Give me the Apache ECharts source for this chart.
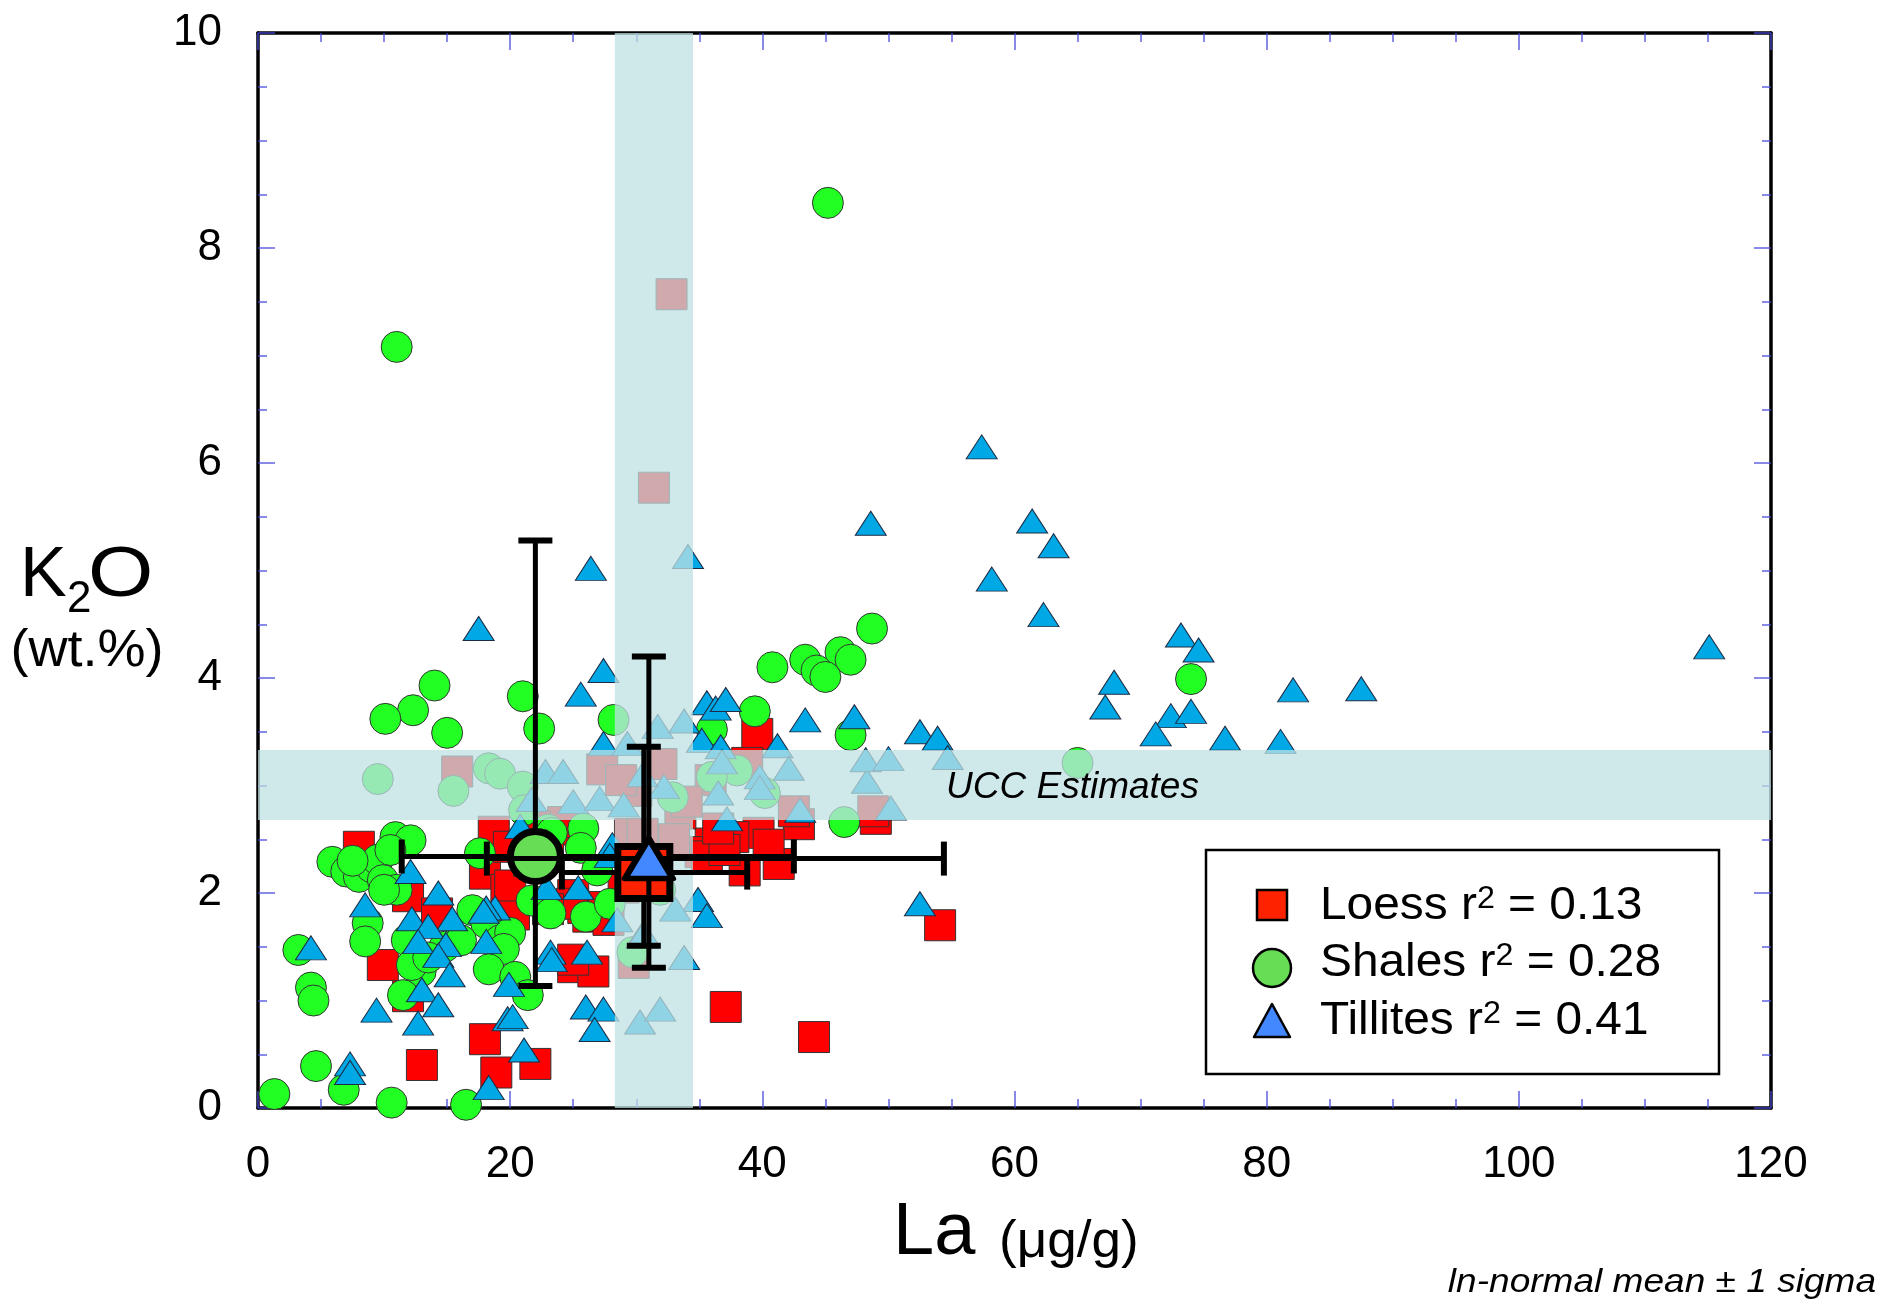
<!DOCTYPE html>
<html>
<head>
<meta charset="utf-8">
<script src="https://cdn.jsdelivr.net/npm/echarts@6/dist/echarts.min.js"></script>
<style>
html,body{margin:0;padding:0;background:#fff;}
#c{width:1897px;height:1308px;}
</style>
</head>
<body>
<div id="c"></div>
<script>
// ---------------- DATA ----------------
const xRange = [0, 120];
const yRange = [0, 10];
const xInterval = 20;
const yInterval = 2;

const loessLa = [8.0, 18.7, 18.0, 19.7, 11.9, 9.9, 11.9, 13.0, 18.0, 18.9, 22.0, 25.0, 26.6, 37.1, 44.1, 54.1, 49.0, 42.9, 39.6, 39.7, 37.7, 35.9, 41.3, 38.6, 35.1, 26.2, 25.8, 27.3, 25.0, 24.6, 24.2, 19.9, 14.2, 20.3, 24.9, 15.8, 27.3, 31.4, 32.8, 29.8, 31.6, 33.5, 38.8, 35.9, 42.5, 48.8, 22.0, 20.0, 35.6, 33.0, 29.5, 30.0, 32.0, 34.0, 28.8, 21.5, 23.0, 23.0, 25.0, 27.8, 37.0, 40.5, 36.5, 30.5, 29.0];
const loessK2O = [2.43, 2.57, 2.18, 2.03, 1.97, 1.33, 1.04, 0.40, 0.64, 0.33, 0.41, 1.31, 1.27, 0.94, 0.66, 1.70, 2.69, 2.64, 3.48, 2.56, 2.52, 2.46, 2.27, 2.21, 2.38, 1.78, 1.86, 1.87, 1.98, 2.59, 2.66, 2.43, 1.81, 1.80, 1.90, 3.13, 3.15, 5.77, 7.57, 1.35, 2.18, 2.74, 3.21, 3.05, 2.76, 2.76, 2.62, 2.07, 2.34, 2.50, 2.55, 2.95, 3.20, 2.85, 3.05, 2.30, 2.45, 1.85, 1.38, 1.75, 2.40, 2.45, 2.60, 2.55, 2.05];

const shalesLa = [45.2, 11.0, 48.7, 46.2, 43.4, 47.0, 44.3, 45.0, 40.8, 74.0, 39.4, 47.0, 14.0, 12.3, 10.1, 15.0, 21.0, 22.3, 28.2, 36.0, 65.0, 9.5, 18.3, 19.2, 15.5, 21.0, 21.1, 38.0, 40.2, 46.5, 25.8, 25.6, 23.0, 23.3, 10.9, 12.1, 5.9, 7.0, 8.0, 9.0, 9.5, 9.9, 11.0, 10.0, 17.6, 21.7, 23.2, 26.0, 27.9, 26.9, 17.0, 18.1, 19.2, 20.0, 19.5, 18.3, 20.4, 21.4, 8.7, 8.5, 3.2, 4.2, 4.4, 12.9, 11.5, 11.8, 12.2, 14.8, 16.1, 4.6, 6.8, 1.3, 10.6, 16.5, 29.7, 36.0, 32.9, 31.9, 22.5, 13.5, 7.5, 10.5];
const shalesK2O = [8.42, 7.08, 4.46, 4.24, 4.17, 4.17, 4.07, 4.01, 4.10, 3.99, 3.69, 3.47, 3.93, 3.70, 3.62, 3.49, 3.83, 3.53, 3.61, 3.52, 3.21, 3.06, 3.16, 3.11, 2.95, 2.99, 2.77, 3.14, 2.93, 2.66, 2.60, 2.42, 2.59, 2.56, 2.52, 2.49, 2.29, 2.20, 2.15, 2.24, 2.31, 2.12, 2.03, 2.03, 2.37, 1.93, 1.81, 1.78, 1.90, 2.21, 1.84, 1.72, 1.56, 1.63, 1.48, 1.29, 1.22, 1.05, 1.72, 1.55, 1.47, 1.12, 1.00, 1.27, 1.05, 1.56, 1.33, 1.50, 1.56, 0.39, 0.17, 0.13, 0.05, 0.03, 1.45, 3.08, 2.89, 2.03, 2.45, 1.40, 2.30, 2.40];

const tillitesLa = [57.4, 61.4, 63.1, 48.6, 58.2, 62.3, 73.2, 74.6, 115.1, 67.9, 67.2, 82.1, 87.5, 72.4, 74.0, 71.2, 76.7, 81.1, 52.5, 53.9, 54.7, 26.4, 34.1, 17.5, 27.4, 25.6, 35.6, 36.3, 37.1, 47.3, 43.4, 41.2, 27.4, 35.2, 36.7, 31.7, 33.8, 29.3, 22.8, 24.2, 25.0, 27.1, 21.7, 36.8, 39.8, 42.1, 39.8, 36.5, 48.3, 48.2, 50.0, 43.0, 50.2, 29.0, 32.2, 30.5, 20.8, 37.2, 28.1, 12.1, 14.3, 8.5, 15.4, 18.8, 18.1, 12.2, 13.5, 12.7, 14.9, 18.1, 14.3, 15.2, 13.0, 14.3, 9.4, 12.7, 19.9, 23.2, 23.3, 26.1, 19.8, 20.2, 26.0, 27.4, 26.7, 30.3, 31.9, 21.1, 18.3, 7.3, 7.3, 4.2, 34.9, 35.6, 33.8, 52.5, 25.4, 22.9, 27.9, 33.1, 30.4, 17.9, 28.5, 30.6];
const tillitesK2O = [6.15, 5.46, 5.23, 5.44, 4.92, 4.59, 4.40, 4.26, 4.29, 3.96, 3.73, 3.89, 3.90, 3.65, 3.69, 3.48, 3.44, 3.41, 3.50, 3.44, 3.26, 5.02, 5.13, 4.46, 4.07, 3.85, 3.77, 3.72, 3.80, 3.64, 3.61, 3.37, 3.39, 3.42, 3.36, 3.55, 3.60, 3.39, 3.13, 3.13, 2.85, 2.88, 2.87, 3.22, 3.08, 3.16, 2.98, 2.93, 3.04, 3.24, 3.25, 2.77, 2.79, 2.82, 2.99, 3.10, 2.62, 2.69, 2.45, 2.20, 2.00, 1.89, 1.76, 1.86, 1.86, 1.76, 1.69, 1.55, 1.52, 1.55, 1.42, 1.24, 1.10, 0.96, 0.91, 0.79, 1.15, 1.45, 1.38, 1.45, 0.83, 0.85, 0.94, 0.92, 0.73, 0.80, 0.92, 0.54, 0.19, 0.41, 0.33, 1.49, 1.94, 1.79, 1.40, 1.90, 2.05, 2.05, 2.35, 1.85, 1.60, 1.83, 1.75, 1.62];

// group order: Loess, Shales, Tillites
const groupNames = ['Loess', 'Shales', 'Tillites'];
const groupR2 = ['0.13', '0.28', '0.41'];
const meanLa = [30.6, 22.0, 31.0];
const meanK2O = [2.19, 2.34, 2.32];
const sigmaLaLow = [24.1, 11.4, 18.15];
const sigmaLaHigh = [38.8, 42.5, 54.4];
const sigmaK2OLow = [1.51, 1.135, 1.305];
const sigmaK2OHigh = [3.36, 5.28, 4.20];

const uccLa = [28.3, 34.5];
const uccK2O = [2.68, 3.33];
const uccLabelPos = [64.6, 2.98];

// ---------------- CHART ----------------
const FONT = '"Liberation Sans", Arial, Helvetica, sans-serif';
const chart = echarts.init(document.getElementById('c'), null, {width: 1897, height: 1308});

const tickColor = 'rgba(70,70,220,0.85)';
function axisCommon(showLabel, isY) {
  return {
    type: 'value',
    min: isY ? yRange[0] : xRange[0],
    max: isY ? yRange[1] : xRange[1],
    interval: isY ? yInterval : xInterval,
    axisLine: {show: true, onZero: false, lineStyle: {color: '#000', width: 3.5}},
    axisTick: {show: true, inside: true, length: 17, lineStyle: {color: tickColor, width: 1.5}},
    minorTick: {show: true, splitNumber: 4, length: 9, lineStyle: {color: tickColor, width: 1.5}},
    splitLine: {show: false},
    minorSplitLine: {show: false},
    axisLabel: {
      show: showLabel, color: '#000', fontSize: 44, fontFamily: FONT,
      margin: isY ? 36 : 35, hideOverlap: false, showMinLabel: true, showMaxLabel: true
    }
  };
}

function pairs(a, b) { return a.map((v, i) => [v, b[i]]); }

function renderBands(params, api) {
  const fill = 'rgba(191,226,228,0.75)';
  const h1 = api.coord([xRange[0], uccK2O[1]]);
  const h2 = api.coord([xRange[1], uccK2O[0]]);
  const v1 = api.coord([uccLa[0], yRange[1]]);
  const v2 = api.coord([uccLa[1], uccK2O[1]]);
  const w1 = api.coord([uccLa[0], uccK2O[0]]);
  const w2 = api.coord([uccLa[1], yRange[0]]);
  const t = api.coord(uccLabelPos);
  return {
    type: 'group',
    children: [
      {type: 'rect', shape: {x: h1[0], y: h1[1], width: h2[0] - h1[0], height: h2[1] - h1[1]}, style: {fill: fill}},
      {type: 'rect', shape: {x: v1[0], y: v1[1], width: v2[0] - v1[0], height: v2[1] - v1[1]}, style: {fill: fill}},
      {type: 'rect', shape: {x: w1[0], y: w1[1], width: w2[0] - w1[0], height: w2[1] - w1[1]}, style: {fill: fill}},
      {type: 'text', x: t[0], y: t[1], style: {text: 'UCC Estimates', font: 'italic 37px ' + FONT, fill: '#000',
        textAlign: 'center', textVerticalAlign: 'middle', align: 'center', verticalAlign: 'middle'}}
    ]
  };
}

function errSeries(i, z) {
  return {
    type: 'custom',
    name: groupNames[i] + ' sigma',
    z: z,
    silent: true,
    clip: false,
    data: [[meanLa[i], meanK2O[i]]],
    renderItem: function (params, api) {
      const c = api.coord([meanLa[i], meanK2O[i]]);
      const top = api.coord([meanLa[i], sigmaK2OHigh[i]]);
      const bot = api.coord([meanLa[i], sigmaK2OLow[i]]);
      const lft = api.coord([sigmaLaLow[i], meanK2O[i]]);
      const rgt = api.coord([sigmaLaHigh[i], meanK2O[i]]);
      const cap = 17;
      const st = {stroke: '#000', lineWidth: 5};
      const capSt = {stroke: '#000', lineWidth: 6};
      return {
        type: 'group',
        children: [
          {type: 'line', shape: {x1: c[0], y1: top[1], x2: c[0], y2: bot[1]}, style: st},
          {type: 'line', shape: {x1: c[0] - cap, y1: top[1], x2: c[0] + cap, y2: top[1]}, style: capSt},
          {type: 'line', shape: {x1: c[0] - cap, y1: bot[1], x2: c[0] + cap, y2: bot[1]}, style: capSt},
          {type: 'line', shape: {x1: lft[0], y1: c[1], x2: rgt[0], y2: c[1]}, style: st},
          {type: 'line', shape: {x1: lft[0], y1: c[1] - cap, x2: lft[0], y2: c[1] + cap}, style: capSt},
          {type: 'line', shape: {x1: rgt[0], y1: c[1] - cap, x2: rgt[0], y2: c[1] + cap}, style: capSt}
        ]
      };
    }
  };
}

function legendText(i, y) {
  return {
    type: 'text', z: 101, x: 1320, y: y, scaleX: 1.04,
    style: {
      text: '{a|' + groupNames[i] + ' r}{s|2}{a| = ' + groupR2[i] + '}',
      textAlign: 'left', textVerticalAlign: 'middle',
      rich: {
        a: {fontSize: 46, fontFamily: FONT, fill: '#000', color: '#000', lineHeight: 50, verticalAlign: 'middle'},
        s: {fontSize: 31, fontFamily: FONT, fill: '#000', color: '#000', lineHeight: 31, verticalAlign: 'top', padding: [3, 0, 0, 0]}
      }
    }
  };
}

const option = {
  animation: false,
  backgroundColor: '#fff',
  grid: {left: 258, right: 126, top: 33, bottom: 200, containLabel: false},
  xAxis: [
    Object.assign(axisCommon(true, false), {position: 'bottom'}),
    Object.assign(axisCommon(false, false), {position: 'top'})
  ],
  yAxis: [
    Object.assign(axisCommon(true, true), {position: 'left'}),
    Object.assign(axisCommon(false, true), {position: 'right'})
  ],
  series: [
    {
      type: 'scatter', name: 'Loess', data: pairs(loessLa, loessK2O),
      symbol: 'rect', symbolSize: 31, z: 2, silent: true,
      itemStyle: {color: '#ff0000', borderColor: '#333', borderWidth: 1, opacity: 1}
    },
    {
      type: 'scatter', name: 'Shales', data: pairs(shalesLa, shalesK2O),
      symbol: 'circle', symbolSize: 31, z: 2, silent: true,
      itemStyle: {color: '#22ff22', borderColor: '#333', borderWidth: 1, opacity: 1}
    },
    {
      type: 'scatter', name: 'Tillites', data: pairs(tillitesLa, tillitesK2O),
      symbol: 'triangle', symbolSize: [31, 24], z: 2, silent: true,
      itemStyle: {color: '#00a8e6', borderColor: '#1c2c44', borderWidth: 1, opacity: 1}
    },
    {
      type: 'custom', name: 'UCC Estimates', z: 3, silent: true, clip: true,
      data: [[uccLa[0], uccK2O[0]]], renderItem: renderBands
    },
    errSeries(1, 4),
    {
      type: 'scatter', name: 'Shales mean', data: [[meanLa[1], meanK2O[1]]], z: 5, silent: true,
      symbol: 'circle', symbolSize: 50,
      itemStyle: {color: '#66dd55', borderColor: '#000', borderWidth: 7, opacity: 1}
    },
    errSeries(0, 6),
    {
      type: 'scatter', name: 'Loess mean', data: [[meanLa[0], meanK2O[0]]], z: 7, silent: true,
      symbol: 'rect', symbolSize: 52,
      itemStyle: {color: '#ff2200', borderColor: '#000', borderWidth: 7, opacity: 1}
    },
    errSeries(2, 8),
    {
      type: 'scatter', name: 'Tillites mean', data: [[meanLa[2], meanK2O[2]]], z: 9, silent: true,
      symbol: 'triangle', symbolSize: [48, 40],
      itemStyle: {color: '#4488ff', borderColor: '#000', borderWidth: 6, borderJoin: 'round', opacity: 1}
    }
  ],
  graphic: {
    elements: [
      // axis titles
      {type: 'text', x: 20, y: 577, style: {text: 'K', font: '70px ' + FONT, fill: '#000', textAlign: 'left', textVerticalAlign: 'middle'}},
      {type: 'text', x: 67, y: 600, style: {text: '2', font: '44px ' + FONT, fill: '#000', textAlign: 'left', textVerticalAlign: 'middle'}},
      {type: 'text', x: 88, y: 577, scaleX: 1.2, style: {text: 'O', font: '70px ' + FONT, fill: '#000', textAlign: 'left', textVerticalAlign: 'middle'}},
      {type: 'text', x: 87, y: 652, scaleX: 1.06, style: {text: '(wt.%)', font: '51px ' + FONT, fill: '#000', textAlign: 'center', textVerticalAlign: 'middle'}},
      {type: 'text', x: 893, y: 1234, style: {text: 'La', font: '74px ' + FONT, fill: '#000', textAlign: 'left', textVerticalAlign: 'middle'}},
      {type: 'text', x: 999, y: 1243, scaleX: 1.02, style: {text: '(μg/g)', font: '52px ' + FONT, fill: '#000', textAlign: 'left', textVerticalAlign: 'middle'}},
      {type: 'text', x: 1876, y: 1283, scaleX: 1.09, style: {text: 'ln-normal mean ± 1 sigma', font: 'italic 34px ' + FONT, fill: '#000', textAlign: 'right', textVerticalAlign: 'middle'}},
      // legend box
      {type: 'rect', z: 100, shape: {x: 1206, y: 850, width: 513, height: 224}, style: {fill: '#fff', stroke: '#000', lineWidth: 2.5}},
      {type: 'rect', z: 101, shape: {x: 1257, y: 890, width: 30, height: 30}, style: {fill: '#ff2200', stroke: '#000', lineWidth: 2.5}},
      {type: 'circle', z: 101, shape: {cx: 1272, cy: 968, r: 19}, style: {fill: '#66dd55', stroke: '#000', lineWidth: 2.5}},
      {type: 'polygon', z: 101, shape: {points: [[1272, 1004], [1290, 1037], [1254, 1037]]}, style: {fill: '#4488ff', stroke: '#000', lineWidth: 2.5, lineJoin: 'round'}},
      legendText(0, 906),
      legendText(1, 963),
      legendText(2, 1021)
    ]
  }
};
chart.setOption(option);
</script>
</body>
</html>
